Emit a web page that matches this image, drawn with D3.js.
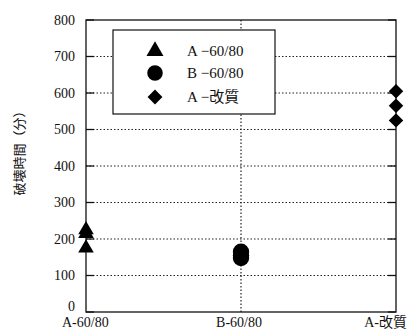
<!DOCTYPE html>
<html>
<head>
  <script src="https://d3js.org/d3.v7.min.js"></script>
  <style>
    body { margin: 0; background: #fff; }
    text { font-family: "Liberation Serif", "Noto Sans CJK JP", serif; fill: #111; }
  </style>
</head>
<body>
  <svg id="chart"></svg>
  <script>
    // categories on the x axis
    const categories = ["A-60/80", "B-60/80", "A-改質"]
    const legendLabels = ["A −60/80", "B −60/80", "A −改質"]
    // measured break times (minutes)
    const valuesA6080 = [225, 215, 175]
    const valuesB6080 = [165, 155, 148]
    const valuesAmod = [605, 565, 525]
    const yTicks = [0, 100, 200, 300, 400, 500, 600, 700, 800]

    const svgwidth = 408, svgheight = 332
    const margin = { top: 20, right: 12, bottom: 20, left: 86 }
    const width = svgwidth - margin.left - margin.right
    const height = svgheight - margin.top - margin.bottom

    const svg = d3.select("#chart").attr("width", svgwidth).attr("height", svgheight)
    const g = svg.append("g").attr("transform", `translate(${margin.left},${margin.top})`)

    const x = d3.scalePoint().domain(categories).range([0, width])
    const y = d3.scaleLinear().domain([0, 800]).range([height, 0])

    // dotted grid
    g.selectAll(".grid")
      .data(yTicks.filter(d => d > 0 && d < 800))
      .enter().append("line")
      .attr("x1", 0).attr("x2", width)
      .attr("y1", d => y(d)).attr("y2", d => y(d))
      .attr("stroke", "#222").attr("stroke-width", 1.2)
      .attr("stroke-dasharray", "1.5,2")
    g.append("line")
      .attr("x1", x(categories[1])).attr("x2", x(categories[1]))
      .attr("y1", 0).attr("y2", height)
      .attr("stroke", "#222").attr("stroke-width", 1.2)
      .attr("stroke-dasharray", "1.5,2")

    // inward tick marks on both sides
    g.selectAll(".tl").data(yTicks).enter().append("line")
      .attr("x1", 0).attr("x2", 8).attr("y1", d => y(d)).attr("y2", d => y(d))
      .attr("stroke", "#111").attr("stroke-width", 1.3)
    g.selectAll(".tr").data(yTicks).enter().append("line")
      .attr("x1", width - 8).attr("x2", width).attr("y1", d => y(d)).attr("y2", d => y(d))
      .attr("stroke", "#111").attr("stroke-width", 1.3)

    // frame
    g.append("rect")
      .attr("width", width).attr("height", height)
      .attr("fill", "none").attr("stroke", "#111").attr("stroke-width", 1.3)

    // y tick labels
    g.selectAll(".ylab").data(yTicks).enter().append("text")
      .attr("x", -11).attr("y", d => y(d) - (d === 0 ? 6 : 0)).attr("dy", "0.35em")
      .attr("text-anchor", "end").attr("font-size", 14)
      .text(d => d)

    // x category labels
    const xAnchor = ["start", "middle", "end"]
    const xShift = [-24, -2, 11]
    g.selectAll(".xlab").data(categories).enter().append("text")
      .attr("x", (d, i) => x(d) + xShift[i]).attr("y", height + 15)
      .attr("text-anchor", (d, i) => xAnchor[i]).attr("font-size", 14)
      .text(d => d)

    // y axis title
    svg.append("text")
      .attr("transform", "translate(24,150) rotate(-90)")
      .attr("text-anchor", "middle").attr("font-size", 13)
      .style("font-family", "'Noto Sans CJK JP', serif")
      .text("破壊時間（分）")

    const tri = d3.symbol().type(d3.symbolTriangle).size(105)
    const circ = d3.symbol().type(d3.symbolCircle).size(210)
    const dia = d3.symbol().type(d3.symbolSquare).size(105)
    const triL = d3.symbol().type(d3.symbolTriangle).size(125)
    const circL = d3.symbol().type(d3.symbolCircle).size(190)
    const diaL = d3.symbol().type(d3.symbolSquare).size(110)

    function plotSeries(vals, cat, sym, rot) {
      g.selectAll(null).data(vals).enter().append("path")
        .attr("d", sym)
        .attr("transform", d => `translate(${x(cat)},${y(d)}) rotate(${rot})`)
        .attr("fill", "#000")
    }
    plotSeries(valuesA6080, categories[0], tri, 0)
    plotSeries(valuesB6080, categories[1], circ, 0)
    plotSeries(valuesAmod, categories[2], dia, 45)

    // legend
    const legend = svg.append("g").attr("transform", "translate(113,30)")
    legend.append("rect").attr("width", 162).attr("height", 84)
      .attr("fill", "#fff").attr("stroke", "#111").attr("stroke-width", 1.2)
    const legSyms = [[triL, 0], [circL, 0], [diaL, 45]]
    const legY = [21, 43, 67]
    legendLabels.forEach((lab, i) => {
      legend.append("path").attr("d", legSyms[i][0])
        .attr("transform", `translate(42,${legY[i]}) rotate(${legSyms[i][1]})`)
        .attr("fill", "#000")
      legend.append("text").attr("x", 74).attr("y", legY[i]).attr("dy", "0.35em")
        .attr("font-size", 15).text(lab)
    })
  </script>
</body>
</html>
